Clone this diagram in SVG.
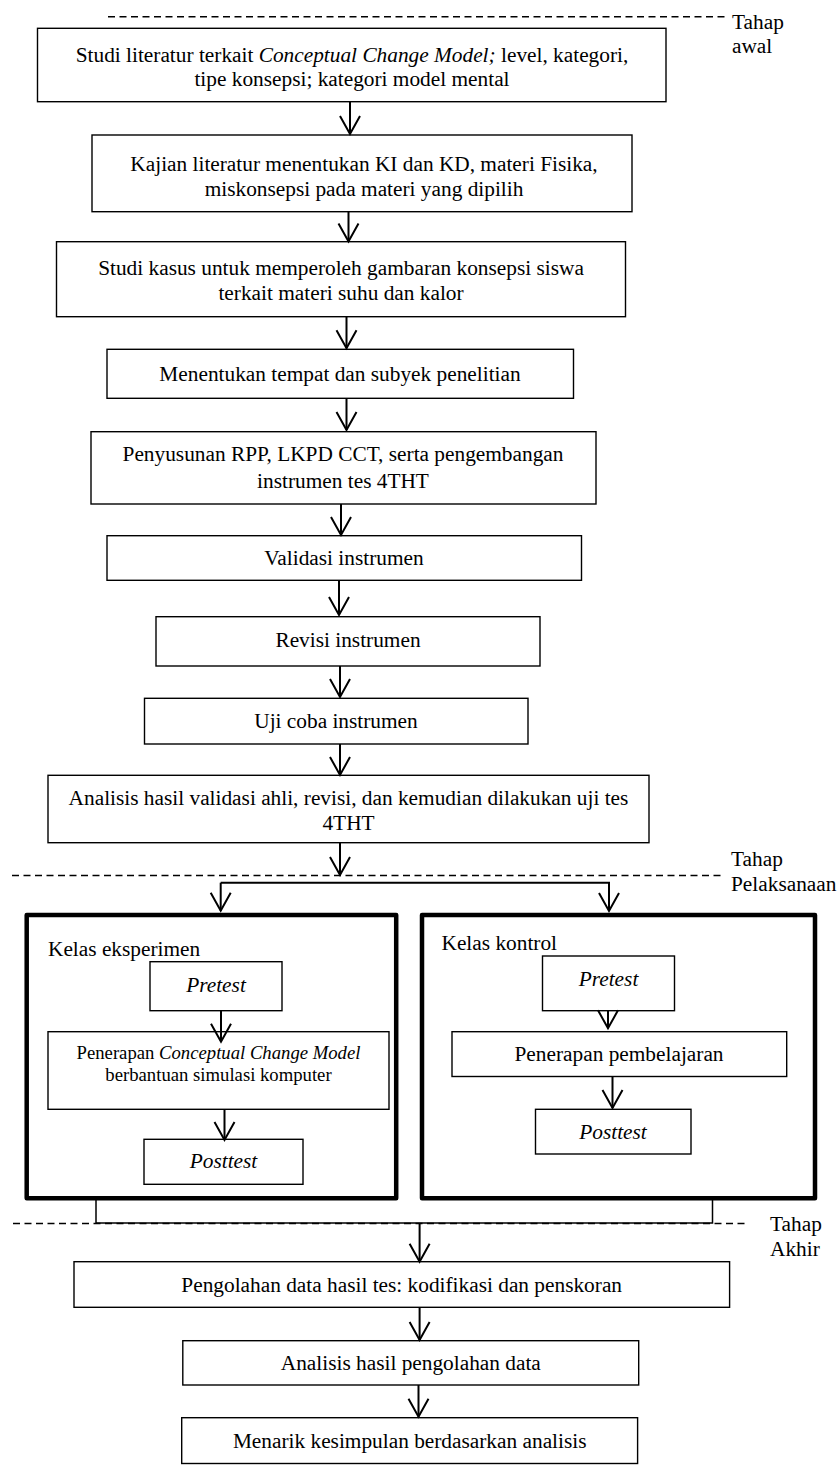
<svg xmlns="http://www.w3.org/2000/svg" width="838" height="1465" viewBox="0 0 838 1465">
<style>
.b{fill:#fff;stroke:#000;stroke-width:1.4}
.k{fill:#fff;stroke:#000;stroke-width:4.5;stroke-linejoin:round}
.t{font-family:"Liberation Serif","Times New Roman",serif;font-size:21.33px;fill:#000;text-anchor:middle}
.s{font-size:18.7px}
.l{text-anchor:start}
.i{font-style:italic}
.c{stroke:#000;stroke-width:2;fill:none}
.d{stroke:#000;stroke-width:1.5;stroke-dasharray:7 4.5;fill:none}
</style>
<defs>
<marker id="ah" viewBox="-20 -12 22 24" refX="0" refY="0" markerWidth="22" markerHeight="24" markerUnits="userSpaceOnUse" orient="auto" overflow="visible">
<path d="M-18,-10 L0,0 L-18,10" fill="none" stroke="#000" stroke-width="2"/>
</marker>
</defs>
<g id="phases">
<line class="d" x1="108" y1="16.7" x2="727" y2="16.7"/>
<line class="d" x1="12" y1="875.5" x2="721.5" y2="875.5"/>
<line class="d" x1="13" y1="1223.5" x2="748" y2="1223.5"/>
<text class="t l" x="732" y="28.5">Tahap</text>
<text class="t l" x="732" y="52.7">awal</text>
<text class="t l" x="731" y="866">Tahap</text>
<text class="t l" x="731" y="891">Pelaksanaan</text>
<text class="t l" x="770" y="1231">Tahap</text>
<text class="t l" x="770" y="1255.5">Akhir</text>
</g>
<g id="n1"><rect class="b" x="37.5" y="28.3" width="628.5" height="73.4"/>
<text class="t" x="352" y="61.5">Studi literatur terkait <tspan class="i">Conceptual Change Model;</tspan> level, kategori,</text>
<text class="t" x="352" y="86">tipe konsepsi; kategori model mental</text></g>
<g id="n2"><rect class="b" x="92" y="135" width="540" height="76.7"/>
<text class="t" x="364" y="171">Kajian literatur menentukan KI dan KD, materi Fisika,</text>
<text class="t" x="364" y="195.5">miskonsepsi pada materi yang dipilih</text></g>
<g id="n3"><rect class="b" x="56.5" y="241.7" width="569" height="75"/>
<text class="t" x="341" y="275">Studi kasus untuk memperoleh gambaran konsepsi siswa</text>
<text class="t" x="341" y="300">terkait materi suhu dan kalor</text></g>
<g id="n4"><rect class="b" x="107" y="349.3" width="466.5" height="49"/>
<text class="t" x="340" y="380.5">Menentukan tempat dan subyek penelitian</text></g>
<g id="n5"><rect class="b" x="91" y="431.7" width="505" height="72.3"/>
<text class="t" x="343" y="461">Penyusunan RPP, LKPD CCT, serta pengembangan</text>
<text class="t" x="343" y="488">instrumen tes 4THT</text></g>
<g id="n6"><rect class="b" x="107" y="535.7" width="474.5" height="44.6"/>
<text class="t" x="344" y="565">Validasi instrumen</text></g>
<g id="n7"><rect class="b" x="156" y="616.7" width="384" height="49.3"/>
<text class="t" x="348" y="647">Revisi instrumen</text></g>
<g id="n8"><rect class="b" x="144.5" y="698.3" width="383.5" height="45.7"/>
<text class="t" x="336" y="728">Uji coba instrumen</text></g>
<g id="n9"><rect class="b" x="48" y="775.3" width="601" height="67.4"/>
<text class="t" x="348.5" y="804.5">Analisis hasil validasi ahli, revisi, dan kemudian dilakukan uji tes</text>
<text class="t" x="348.5" y="829.5">4THT</text></g>
<g id="eksperimen"><rect class="k" x="26.7" y="915" width="369.5" height="283.3"/>
<text class="t l" x="48" y="956">Kelas eksperimen</text></g>
<g id="kontrol"><rect class="k" x="422" y="915" width="393" height="283.3"/>
<text class="t l" x="441.5" y="950">Kelas kontrol</text></g>
<g id="e-pre"><rect class="b" x="150" y="961.7" width="132" height="49"/>
<text class="t i" x="216" y="991.5">Pretest</text></g>
<g id="e-ccm"><rect class="b" x="48" y="1031.7" width="341" height="77.6"/>
<text class="t s" x="218.5" y="1059">Penerapan <tspan class="i">Conceptual Change Model</tspan></text>
<text class="t s" x="218.5" y="1081">berbantuan simulasi komputer</text></g>
<g id="e-post"><rect class="b" x="144" y="1139.3" width="159" height="45"/>
<text class="t i" x="223.5" y="1168">Posttest</text></g>
<g id="k-pre"><rect class="b" x="542.5" y="956" width="132" height="54.7"/>
<text class="t i" x="608.5" y="986">Pretest</text></g>
<g id="k-pemb"><rect class="b" x="452" y="1031.7" width="334.7" height="44.8"/>
<text class="t" x="619" y="1061">Penerapan pembelajaran</text></g>
<g id="k-post"><rect class="b" x="535.5" y="1109.3" width="155.5" height="44.7"/>
<text class="t i" x="613" y="1139">Posttest</text></g>
<g id="n10"><rect class="b" x="74" y="1261.7" width="655.6" height="45.6"/>
<text class="t" x="401.7" y="1291.5">Pengolahan data hasil tes: kodifikasi dan penskoran</text></g>
<g id="n11"><rect class="b" x="182.8" y="1340.7" width="455.9" height="44.3"/>
<text class="t" x="410.8" y="1370">Analisis hasil pengolahan data</text></g>
<g id="n12"><rect class="b" x="181.7" y="1417.7" width="455.9" height="45.8"/>
<text class="t" x="409.7" y="1447.5">Menarik kesimpulan berdasarkan analisis</text></g>
<g id="connectors">
<line class="c" x1="350" y1="101.7" x2="350" y2="134" marker-end="url(#ah)"/>
<line class="c" x1="348.5" y1="211.7" x2="348.5" y2="241.5" marker-end="url(#ah)"/>
<line class="c" x1="346.5" y1="316.7" x2="346.5" y2="348.3" marker-end="url(#ah)"/>
<line class="c" x1="346.5" y1="398.3" x2="346.5" y2="430" marker-end="url(#ah)"/>
<line class="c" x1="341" y1="504" x2="341" y2="535" marker-end="url(#ah)"/>
<line class="c" x1="339" y1="580.3" x2="339" y2="615" marker-end="url(#ah)"/>
<line class="c" x1="340" y1="666" x2="340" y2="697" marker-end="url(#ah)"/>
<line class="c" x1="340" y1="744" x2="340" y2="775" marker-end="url(#ah)"/>
<line class="c" x1="340" y1="842.7" x2="340" y2="875" marker-end="url(#ah)"/>
<polyline class="c" points="220.7,882.7 609,882.7 609,911" marker-end="url(#ah)"/>
<line class="c" x1="220.7" y1="882.7" x2="220.7" y2="910.7" marker-end="url(#ah)"/>
<line class="c" x1="221" y1="1010.7" x2="221" y2="1041.7" marker-end="url(#ah)"/>
<line class="c" x1="224.5" y1="1109.3" x2="224.5" y2="1140" marker-end="url(#ah)"/>
<line class="c" x1="608" y1="1010.7" x2="608" y2="1028.3" marker-end="url(#ah)"/>
<line class="c" x1="612.5" y1="1076.5" x2="612.5" y2="1108" marker-end="url(#ah)"/>
<polyline class="c" style="stroke-width:1.5" points="96,1198.3 96,1223 712.5,1223 712.5,1198.3"/>
<line class="c" x1="419.6" y1="1223" x2="419.6" y2="1261.7" marker-end="url(#ah)"/>
<line class="c" x1="419.6" y1="1307.3" x2="419.6" y2="1340" marker-end="url(#ah)"/>
<line class="c" x1="418.5" y1="1385" x2="418.5" y2="1416.7" marker-end="url(#ah)"/>
</g>
</svg>
